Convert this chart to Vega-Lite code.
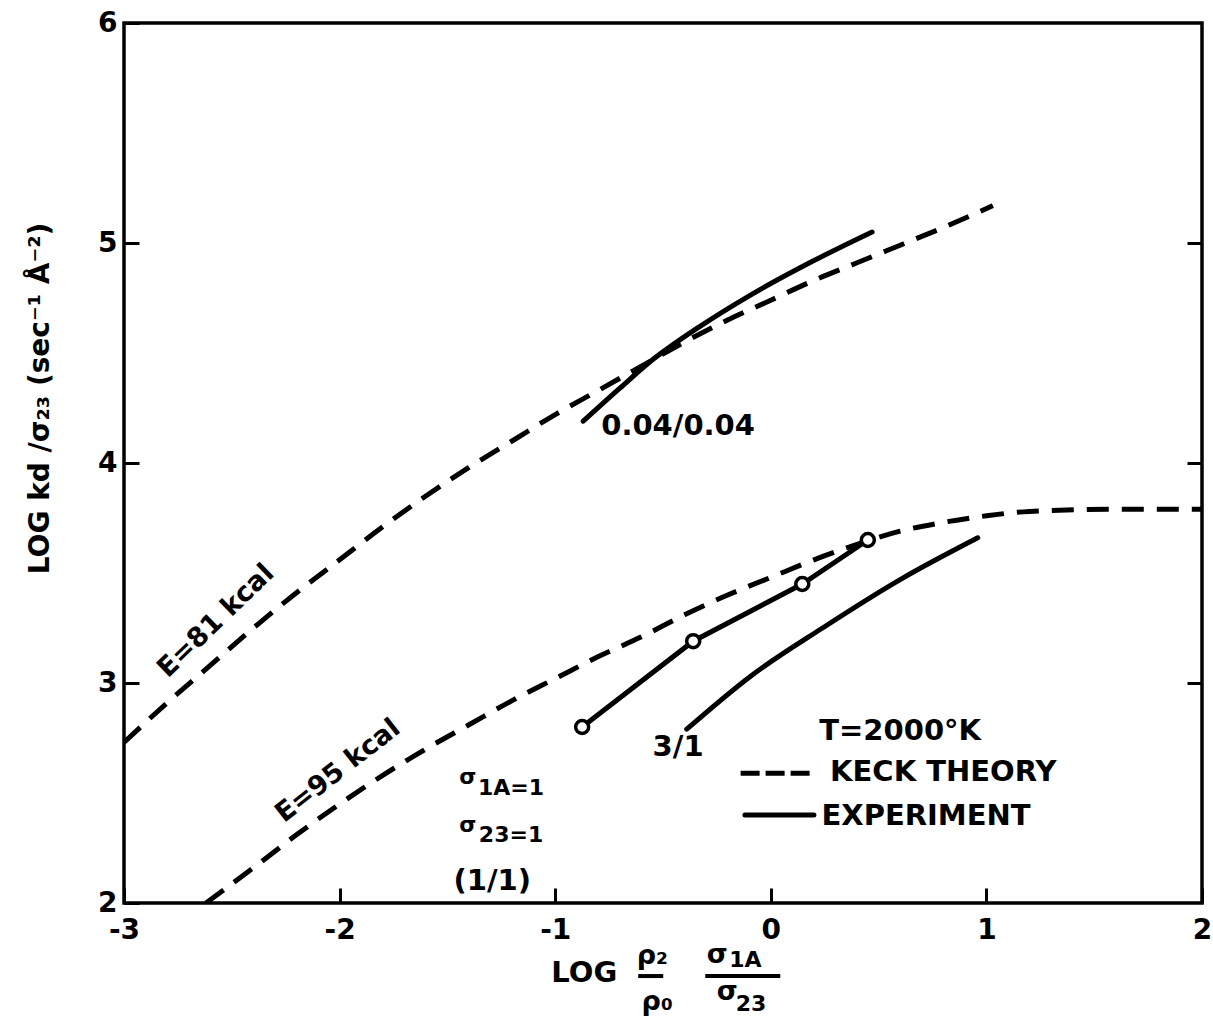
{
  "$schema": "https://vega.github.io/schema/vega-lite/v6.json",
  "width": 1078,
  "height": 880,
  "autosize": {"type": "none"},
  "padding": {"left": 124, "top": 23, "right": 11, "bottom": 119},
  "background": "white",
  "config": {
    "view": {"stroke": "black", "strokeWidth": 3.5},
    "font": "DejaVu Sans",
    "axis": {"labelFont": "DejaVu Sans", "labelFontWeight": "bold", "labelColor": "black", "titleFont": "DejaVu Sans", "titleFontWeight": "bold", "titleColor": "black", "grid": false, "domain": false, "tickColor": "black", "tickWidth": 3}
  },
  "resolve": {"axis": {"x": "independent", "y": "independent"}},
  "datasets": {
    "theory": [
      {"curve": "E81", "x": -3.0, "y": 2.73},
      {"curve": "E81", "x": -2.8, "y": 2.91},
      {"curve": "E81", "x": -2.6, "y": 3.08},
      {"curve": "E81", "x": -2.4, "y": 3.25},
      {"curve": "E81", "x": -2.2, "y": 3.41},
      {"curve": "E81", "x": -2.0, "y": 3.56},
      {"curve": "E81", "x": -1.8, "y": 3.71},
      {"curve": "E81", "x": -1.6, "y": 3.85},
      {"curve": "E81", "x": -1.4, "y": 3.98},
      {"curve": "E81", "x": -1.2, "y": 4.10},
      {"curve": "E81", "x": -1.0, "y": 4.22},
      {"curve": "E81", "x": -0.8, "y": 4.33},
      {"curve": "E81", "x": -0.6, "y": 4.44},
      {"curve": "E81", "x": -0.4, "y": 4.55},
      {"curve": "E81", "x": -0.2, "y": 4.65},
      {"curve": "E81", "x": 0.0, "y": 4.74},
      {"curve": "E81", "x": 0.2, "y": 4.83},
      {"curve": "E81", "x": 0.4, "y": 4.91},
      {"curve": "E81", "x": 0.6, "y": 4.99},
      {"curve": "E81", "x": 0.8, "y": 5.07},
      {"curve": "E81", "x": 1.03, "y": 5.17},
      {"curve": "E95", "x": -2.62, "y": 2.0},
      {"curve": "E95", "x": -2.4, "y": 2.16},
      {"curve": "E95", "x": -2.2, "y": 2.31},
      {"curve": "E95", "x": -2.0, "y": 2.45},
      {"curve": "E95", "x": -1.8, "y": 2.58},
      {"curve": "E95", "x": -1.6, "y": 2.70},
      {"curve": "E95", "x": -1.4, "y": 2.81},
      {"curve": "E95", "x": -1.2, "y": 2.92},
      {"curve": "E95", "x": -1.0, "y": 3.02},
      {"curve": "E95", "x": -0.8, "y": 3.12},
      {"curve": "E95", "x": -0.6, "y": 3.21},
      {"curve": "E95", "x": -0.4, "y": 3.31},
      {"curve": "E95", "x": -0.2, "y": 3.40},
      {"curve": "E95", "x": 0.0, "y": 3.48},
      {"curve": "E95", "x": 0.2, "y": 3.56},
      {"curve": "E95", "x": 0.4, "y": 3.63},
      {"curve": "E95", "x": 0.6, "y": 3.69},
      {"curve": "E95", "x": 0.8, "y": 3.73},
      {"curve": "E95", "x": 1.0, "y": 3.76},
      {"curve": "E95", "x": 1.2, "y": 3.78},
      {"curve": "E95", "x": 1.6, "y": 3.79},
      {"curve": "E95", "x": 2.0, "y": 3.79}
    ],
    "legendDash": [
      {"x": -0.14, "y": 2.59},
      {"x": 0.19, "y": 2.59}
    ],
    "experiment": [
      {"run": "0.04/0.04", "x": -0.87, "y": 4.19},
      {"run": "0.04/0.04", "x": -0.7, "y": 4.34},
      {"run": "0.04/0.04", "x": -0.56, "y": 4.46},
      {"run": "0.04/0.04", "x": -0.33, "y": 4.62},
      {"run": "0.04/0.04", "x": -0.10, "y": 4.76},
      {"run": "0.04/0.04", "x": 0.18, "y": 4.91},
      {"run": "0.04/0.04", "x": 0.47, "y": 5.05},
      {"run": "3/1", "x": -0.39, "y": 2.79},
      {"run": "3/1", "x": -0.095, "y": 3.03},
      {"run": "3/1", "x": 0.24, "y": 3.25},
      {"run": "3/1", "x": 0.60, "y": 3.47},
      {"run": "3/1", "x": 0.96, "y": 3.66},
      {"run": "legend", "x": -0.12, "y": 2.40},
      {"run": "legend", "x": 0.20, "y": 2.40}
    ],
    "circles": [
      {"x": -0.875, "y": 2.80},
      {"x": -0.36, "y": 3.19},
      {"x": 0.146, "y": 3.45},
      {"x": 0.45, "y": 3.65}
    ],
    "notes": [
      {"text": "0.04/0.04", "x": -0.43, "y": 4.17},
      {"text": "3/1", "x": -0.43, "y": 2.71},
      {"text": "T=2000°K", "x": 0.60, "y": 2.78},
      {"text": "KECK THEORY", "x": 0.80, "y": 2.595},
      {"text": "EXPERIMENT", "x": 0.72, "y": 2.395},
      {"text": "(1/1)", "x": -1.292, "y": 2.10},
      {"text": "LOG", "x": -0.865, "y": 1.682}
    ],
    "small": [
      {"text": "σ", "x": -1.405, "y": 2.573},
      {"text": "1A=1", "x": -1.205, "y": 2.523},
      {"text": "σ", "x": -1.405, "y": 2.355},
      {"text": "23=1", "x": -1.205, "y": 2.31},
      {"text": "1A", "x": -0.118, "y": 1.741},
      {"text": "23", "x": -0.092, "y": 1.541}
    ],
    "mid": [
      {"text": "ρ₂", "x": -0.55, "y": 1.758},
      {"text": "ρ₀", "x": -0.527, "y": 1.55},
      {"text": "σ", "x": -0.248, "y": 1.764},
      {"text": "σ", "x": -0.202, "y": 1.595}
    ],
    "e81": [{"text": "E=81 kcal", "x": -2.573, "y": 3.282}],
    "e95": [{"text": "E=95 kcal", "x": -2.007, "y": 2.60}],
    "bars": [
      {"x": -0.615, "x2": -0.499, "y": 1.668},
      {"x": -0.304, "x2": 0.044, "y": 1.668}
    ]
  },
  "layer": [
    {
      "data": {"name": "theory"},
      "mark": {"type": "line", "color": "black", "strokeWidth": 5, "strokeDash": [22, 13], "strokeCap": "butt", "interpolate": "monotone", "clip": true},
      "encoding": {
        "x": {"field": "x", "type": "quantitative", "scale": {"domain": [-3, 2], "nice": false, "zero": false},
          "axis": {"orient": "bottom", "values": [-3, -2, -1, 0, 1, 2], "title": null, "tickSize": -15, "labelPadding": 28, "labelFontSize": 28, "labelFlush": false, "labelOverlap": false, "labelExpr": "'' + datum.value"}},
        "y": {"field": "y", "type": "quantitative", "scale": {"domain": [2, 6], "nice": false, "zero": false},
          "axis": {"values": [2, 3, 4, 5, 6], "orient": "left", "tickSize": -15, "labelPadding": 22, "labelFontSize": 28, "labelOverlap": false, "labelFlush": false, "labelExpr": "'' + datum.value",
            "title": "LOG kd /σ₂₃ (sec⁻¹ Å⁻²)", "titleFontSize": 28, "titleX": -84, "titleY": 375, "titleBaseline": "middle", "titleAngle": -90}},
        "detail": {"field": "curve"}
      }
    },
    {
      "data": {"name": "legendDash"},
      "mark": {"type": "line", "color": "black", "strokeWidth": 5, "strokeDash": [19, 6], "strokeCap": "butt"},
      "encoding": {
        "x": {"field": "x", "type": "quantitative", "axis": null},
        "y": {"field": "y", "type": "quantitative", "axis": null}
      }
    },
    {
      "data": {"name": "experiment"},
      "mark": {"type": "line", "color": "black", "strokeWidth": 5, "strokeCap": "round", "interpolate": "monotone", "clip": true},
      "encoding": {
        "x": {"field": "x", "type": "quantitative", "axis": null},
        "y": {"field": "y", "type": "quantitative", "axis": null},
        "detail": {"field": "run"}
      }
    },
    {
      "data": {"name": "circles"},
      "mark": {"type": "line", "color": "black", "strokeWidth": 5, "strokeCap": "round", "clip": true},
      "encoding": {
        "x": {"field": "x", "type": "quantitative", "axis": null},
        "y": {"field": "y", "type": "quantitative", "axis": null}
      }
    },
    {
      "data": {"name": "circles"},
      "mark": {"type": "point", "shape": "circle", "filled": true, "fill": "white", "stroke": "black", "strokeWidth": 3.5, "size": 170, "opacity": 1},
      "encoding": {
        "x": {"field": "x", "type": "quantitative", "axis": null},
        "y": {"field": "y", "type": "quantitative",
          "axis": {"orient": "right", "values": [3, 4, 5], "labels": false, "tickSize": -15, "title": null}}
      }
    },
    {
      "data": {"name": "bars"},
      "mark": {"type": "rule", "color": "black", "strokeWidth": 4},
      "encoding": {
        "x": {"field": "x", "type": "quantitative", "axis": null},
        "x2": {"field": "x2"},
        "y": {"field": "y", "type": "quantitative", "axis": null}
      }
    },
    {
      "data": {"name": "notes"},
      "mark": {"type": "text", "font": "DejaVu Sans", "fontWeight": "bold", "fontSize": 29, "align": "center", "baseline": "middle", "color": "black"},
      "encoding": {
        "x": {"field": "x", "type": "quantitative", "axis": null},
        "y": {"field": "y", "type": "quantitative", "axis": null},
        "text": {"field": "text"}
      }
    },
    {
      "data": {"name": "small"},
      "mark": {"type": "text", "font": "DejaVu Sans", "fontWeight": "bold", "fontSize": 22, "align": "center", "baseline": "middle", "color": "black"},
      "encoding": {
        "x": {"field": "x", "type": "quantitative", "axis": null},
        "y": {"field": "y", "type": "quantitative", "axis": null},
        "text": {"field": "text"}
      }
    },
    {
      "data": {"name": "mid"},
      "mark": {"type": "text", "font": "DejaVu Sans", "fontWeight": "bold", "fontSize": 27, "align": "center", "baseline": "middle", "color": "black"},
      "encoding": {
        "x": {"field": "x", "type": "quantitative", "axis": null},
        "y": {"field": "y", "type": "quantitative", "axis": null},
        "text": {"field": "text"}
      }
    },
    {
      "data": {"name": "e81"},
      "mark": {"type": "text", "font": "DejaVu Sans", "fontWeight": "bold", "fontSize": 27, "align": "center", "baseline": "middle", "angle": 316, "color": "black"},
      "encoding": {
        "x": {"field": "x", "type": "quantitative", "axis": null},
        "y": {"field": "y", "type": "quantitative", "axis": null},
        "text": {"field": "text"}
      }
    },
    {
      "data": {"name": "e95"},
      "mark": {"type": "text", "font": "DejaVu Sans", "fontWeight": "bold", "fontSize": 27, "align": "center", "baseline": "middle", "angle": 322, "color": "black"},
      "encoding": {
        "x": {"field": "x", "type": "quantitative", "axis": null},
        "y": {"field": "y", "type": "quantitative", "axis": null},
        "text": {"field": "text"}
      }
    }
  ]
}
